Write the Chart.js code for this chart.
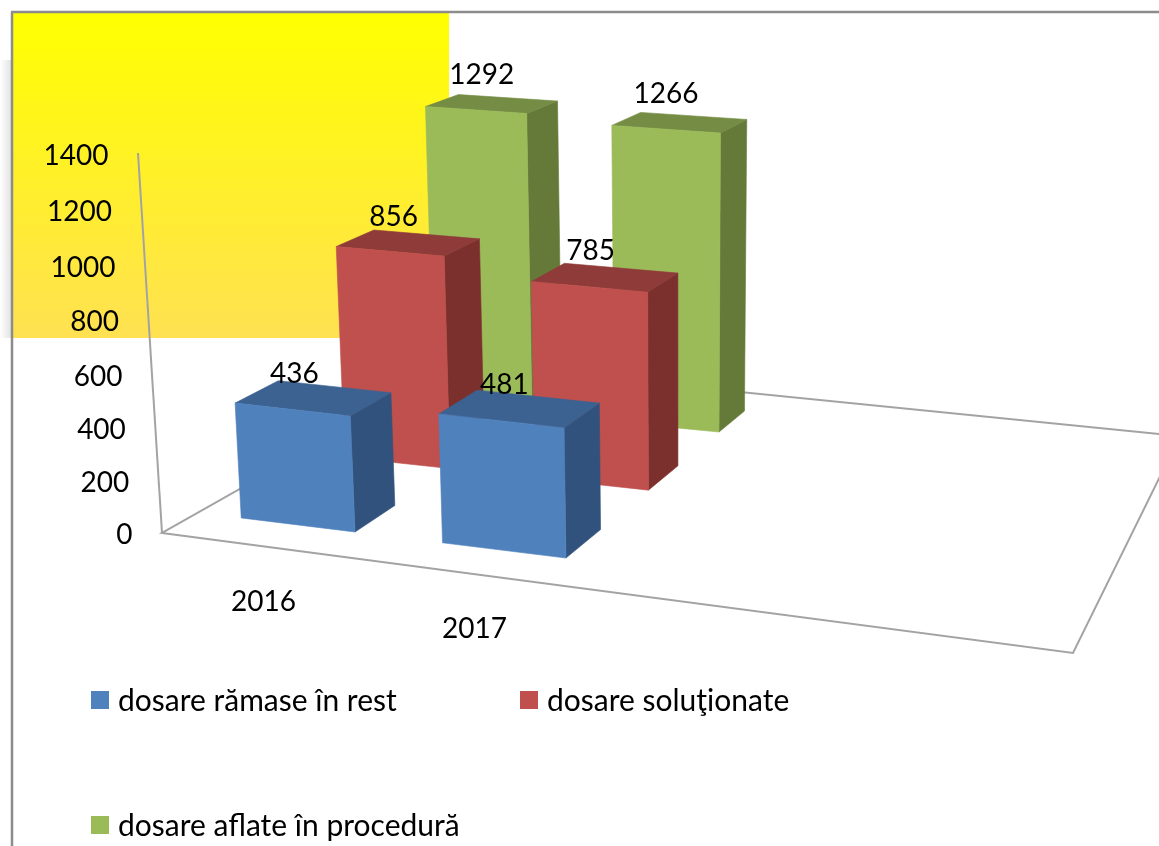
<!DOCTYPE html>
<html>
<head>
<meta charset="utf-8">
<style>html,body{margin:0;padding:0;background:#fff}canvas{display:block}</style>
<script src="https://cdn.jsdelivr.net/npm/chart.js@4"></script>
</head>
<body>
<canvas id="c" width="1159" height="846"></canvas>
<script>
// ---- data ----
const categories = ['2016', '2017'];
const seriesNames = ['dosare rămase în rest', 'dosare soluţionate', 'dosare aflate în procedură'];
const rest = [436, 481];
const solved = [856, 785];
const inProcedure = [1292, 1266];
const axisMax = 1400;
const axisStep = 200;
const frontColors = ['#4F81BD', '#C0504D', '#9BBB59'];
const topColors = ['#3C6291', '#8F3B39', '#748C43'];
const sideColors = ['#30527C', '#7C302E', '#657A39'];

// ---- 3D projection (layout only) ----
const depthRows = [0, 0.5, 1];       // floor depth of each series row
const barW = 0.575, barD = 0.2;      // bar footprint in floor units
const H = {a:188.1, b:262.9, c:355, d:3.5, e:-51.2, f:532, g:-0.0404, h:0.1614}; // floor homography
const VP = {x:680, y:8700};          // vanishing point of the vertical direction
const KAPPA = 1.203e-4;
const FONT = '"Lato"';

function floorPt(u, v){
  const w = 1 + H.g*u + H.h*v;
  return {x:(H.a*u + H.b*v + H.c)/w, y:(H.d*u + H.e*v + H.f)/w};
}
function project(u, v, hPx){
  const f = floorPt(u, v);
  const t = hPx*KAPPA/(1 - 0.02*u + 0.16*v);
  return {x:f.x + (f.x-VP.x)*t, y:f.y + (f.y-VP.y)*t};
}
function poly(ctx, pts, color){
  ctx.beginPath();
  pts.forEach((p,i)=> i ? ctx.lineTo(p.x,p.y) : ctx.moveTo(p.x,p.y));
  ctx.closePath();
  ctx.fillStyle = color; ctx.fill();
  ctx.strokeStyle = color; ctx.lineWidth = 0.6; ctx.stroke();
}
function line(ctx, a, b, color, w){
  ctx.beginPath(); ctx.moveTo(a[0],a[1]); ctx.lineTo(b[0],b[1]);
  ctx.strokeStyle=color; ctx.lineWidth=w; ctx.stroke();
}

const bars3d = {
  id:'bars3d',
  beforeDraw(chart){
    const ctx = chart.ctx;
    ctx.save();
    ctx.fillStyle='#fff'; ctx.fillRect(0,0,1159,846);
    // soft shadow left of the yellow panel
    let sh = ctx.createLinearGradient(0,0,12,0);
    sh.addColorStop(0,'rgba(225,225,225,0)'); sh.addColorStop(1,'rgba(225,225,225,1)');
    ctx.fillStyle = sh; ctx.fillRect(1,60,11,278);
    // yellow panel
    const g = ctx.createLinearGradient(0,13,0,338);
    g.addColorStop(0,'#FFFF00'); g.addColorStop(1,'#FFE152');
    ctx.fillStyle = g; ctx.fillRect(13,13,436,325);
    // page frame
    line(ctx,[12,846],[12,12],'#8c8c8c',2.5);
    line(ctx,[11,12],[1159,12],'#8c8c8c',2.5);
    ctx.restore();

    // move native tick labels onto the slanted axis
    const ys = chart.scales.y, xs = chart.scales.x;
    ys.getLabelItems().forEach(it=>{
      const val = Number(it.label);
      const r = val/axisMax;
      const py = ys.getPixelForValue(val) + 16*r*(1-r);
      const ax = 162 - 24*(534-py)/379;
      it.options.translation = [ax-29.5, py+1];
      it.options.textAlign = 'right';
      it.options.textBaseline = 'middle';
      it.textOffset = 0;
    });
    const u0 = xs.getPixelForValue(0), us = xs.getPixelForValue(1)-u0;
    xs.getLabelItems().forEach((it,i)=>{
      const u = (xs.getPixelForValue(i)-u0)/us;
      const p = floorPt(u-barW/2, 0);
      it.options.translation = [p.x-34+5*u, p.y+77+2*u];
      it.options.textAlign = 'center';
      it.options.textBaseline = 'middle';
      it.textOffset = 0;
    });
  },
  beforeDatasetDraw(){ return false; },
  afterDatasetsDraw(chart){
    const ctx = chart.ctx, xs = chart.scales.x, ys = chart.scales.y;
    const u0 = xs.getPixelForValue(0), us = xs.getPixelForValue(1)-u0;
    const zero = ys.getPixelForValue(0);
    ctx.save();
    // floor and vertical axis
    const A=[162,533], B=[1073,653], C=[1180,436], D=[461,364];
    const gc='#a3a3a3';
    line(ctx,[138,153],A,gc,2);
    ctx.lineJoin='miter';
    ctx.beginPath(); ctx.moveTo(...A); ctx.lineTo(...B); ctx.lineTo(...C); ctx.lineTo(...D); ctx.closePath();
    ctx.strokeStyle=gc; ctx.lineWidth=2; ctx.stroke();
    // bars, back row first
    const labels=[];
    for(let s=chart.data.datasets.length-1; s>=0; s--){
      const ds = chart.data.datasets[s], v = depthRows[s];
      ds.data.forEach((val,i)=>{
        const u = (xs.getPixelForValue(i)-u0)/us;
        const h = zero-ys.getPixelForValue(val);
        const uL=u-barW*(1-0.04*v), vB=v+barD;
        const fbl=project(uL,v,0), fbr=project(u,v,0), bbr=project(u,vB,0);
        const ftl=project(uL,v,h), ftr=project(u,v,h), btl=project(uL,vB,h), btr=project(u,vB,h);
        poly(ctx,[fbr,bbr,btr,ftr],sideColors[s]);
        poly(ctx,[ftl,ftr,btr,btl],topColors[s]);
        poly(ctx,[fbl,fbr,ftr,ftl],frontColors[s]);
        const c=project((u+uL)/2,v+barD/2,h);
        labels.push({t:String(val),
          x:c.x-15-4+4*u+9*v-7.5*u*v,
          y:c.y-28.5+5-5*v});
      });
    }
    ctx.fillStyle='#000';
    ctx.font='28px '+FONT;
    ctx.textAlign='center'; ctx.textBaseline='middle';
    labels.forEach(l=>ctx.fillText(l.t,l.x,l.y));
    // legend
    const spots=[[91,700],[520,700],[91,825]];
    ctx.textAlign='left';
    ctx.font='30px '+FONT;
    chart.data.datasets.forEach((ds,i)=>{
      const [lx,ly]=spots[i];
      ctx.fillStyle=frontColors[i];
      ctx.fillRect(lx,ly-9,18,18);
      ctx.fillStyle='#000';
      ctx.fillText(ds.label,lx+27,ly+1);
    });
    ctx.restore();
  }
};

new Chart(document.getElementById('c'),{
  type:'bar',
  data:{
    labels:categories,
    datasets:[rest,solved,inProcedure].map((d,i)=>({label:seriesNames[i],data:d,backgroundColor:frontColors[i]}))
  },
  options:{
    responsive:false,
    animation:false,
    layout:{autoPadding:false,padding:{left:0,right:59,top:155,bottom:202}},
    plugins:{legend:{display:false},tooltip:{enabled:false},title:{display:false}},
    scales:{
      x:{grid:{display:false},border:{display:false},
         ticks:{color:'#000',font:{family:'Lato',size:28},maxRotation:0,autoSkip:false},
         afterFit(s){s.height=110;}},
      y:{min:0,max:axisMax,grid:{display:false},border:{display:false},
         ticks:{stepSize:axisStep,color:'#000',font:{family:'Lato',size:28},callback:v=>String(v)},
         afterFit(s){s.width=138;}}
    }
  },
  plugins:[bars3d]
});
</script>
</body>
</html>
